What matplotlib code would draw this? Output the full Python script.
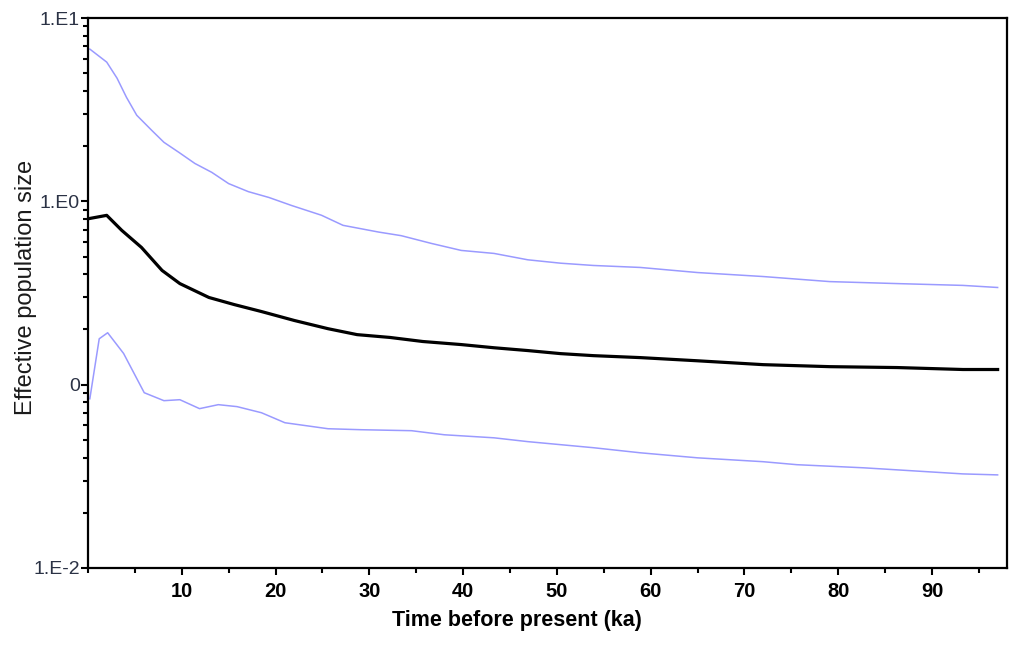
import matplotlib
matplotlib.use("Agg")
import matplotlib.pyplot as plt
from matplotlib.ticker import FixedLocator, LogLocator, NullFormatter, MultipleLocator

# valeurs (temps en ka, taille efficace)
t_upper = [0.2, 2.0, 3.1, 4.1, 5.2, 6.8, 8.1, 9.7, 11.4, 13.2, 15.0, 17.1, 19.3, 21.7, 24.9, 27.2, 31.0, 33.4, 36.6, 39.8, 43.3, 46.9, 50.4, 53.9, 58.9, 65.0, 72.0, 79.1, 86.3, 93.3, 97.0]
ne_upper = [6.77, 5.75, 4.70, 3.70, 2.95, 2.44, 2.10, 1.85, 1.61, 1.44, 1.25, 1.13, 1.05, 0.95, 0.84, 0.74, 0.68, 0.65, 0.59, 0.54, 0.52, 0.48, 0.46, 0.447, 0.436, 0.409, 0.389, 0.365, 0.356, 0.348, 0.339]

t_median = [0.2, 2.0, 3.6, 5.7, 7.9, 9.8, 12.9, 15.6, 18.5, 22.0, 25.6, 28.7, 32.2, 35.7, 39.8, 43.3, 46.9, 50.4, 53.9, 58.9, 65.0, 72.0, 79.1, 86.3, 93.3, 97.0]
ne_median = [0.807, 0.839, 0.695, 0.561, 0.42, 0.356, 0.299, 0.2735, 0.2506, 0.224, 0.202, 0.1875, 0.181, 0.172, 0.1655, 0.159, 0.1535, 0.1477, 0.144, 0.1405, 0.135, 0.1286, 0.1254, 0.124, 0.121, 0.121]

t_lower = [0.2, 1.2, 2.1, 3.8, 6.0, 8.1, 9.8, 11.9, 13.9, 15.9, 18.5, 21.0, 25.6, 29.1, 34.5, 38.0, 43.3, 46.9, 53.9, 58.9, 65.0, 72.0, 75.6, 82.7, 86.3, 93.3, 97.0]
ne_lower = [0.0838, 0.178, 0.192, 0.148, 0.0904, 0.0818, 0.0828, 0.074, 0.0778, 0.0759, 0.0703, 0.062, 0.0575, 0.0568, 0.0561, 0.0533, 0.0513, 0.0489, 0.0453, 0.0425, 0.0399, 0.038, 0.0366, 0.0352, 0.0343, 0.0326, 0.0322]

y_ticks = [0.01, 0.1, 1, 10]
y_labels = ["1.E-2", "0", "1.E0", "1.E1"]
x_ticks = [10, 20, 30, 40, 50, 60, 70, 80, 90]

plt.rcParams["font.family"] = ["Liberation Sans", "DejaVu Sans"]

fig = plt.figure(figsize=(10.24, 6.45), dpi=100)
ax = fig.add_axes([0.0859, 0.1194, 0.8975, 0.8526])

blue = "#9a9aff"
ax.plot(t_upper, ne_upper, color=blue, lw=1.1)
ax.plot(t_lower, ne_lower, color=blue, lw=1.1)
ax.plot(t_median, ne_median, color="black", lw=2.3)

ax.set_yscale("log")
ax.set_ylim(0.01, 10)
ax.set_xlim(0, 98)

ax.yaxis.set_major_locator(FixedLocator(y_ticks))
ax.set_yticklabels(y_labels, color="#2b3245", fontsize=14)
ax.yaxis.set_minor_locator(LogLocator(base=10, subs=range(2, 10)))
ax.yaxis.set_minor_formatter(NullFormatter())

ax.set_xticks(x_ticks)
ax.set_xticklabels([str(v) for v in x_ticks], fontsize=14.5, fontweight="bold")
ax.xaxis.set_minor_locator(MultipleLocator(5))

ax.tick_params(which="major", direction="out", length=5, width=1.5, top=False, right=False)
ax.tick_params(which="minor", direction="out", length=3.5, width=1.5, top=False, right=False)
ax.tick_params(axis="x", pad=5)
ax.tick_params(axis="y", pad=1)
for s in ax.spines.values():
    s.set_linewidth(1.6)

ax.set_ylabel("Effective population size", fontsize=17, color="#1a1a1a")
ax.yaxis.set_label_coords(-0.055, 0.51)
ax.set_xlabel("Time before present (ka)", fontsize=15.5, fontweight="bold", va="top")
ax.xaxis.set_label_coords(0.467, -0.076)

fig.savefig("out.png", dpi=100)
